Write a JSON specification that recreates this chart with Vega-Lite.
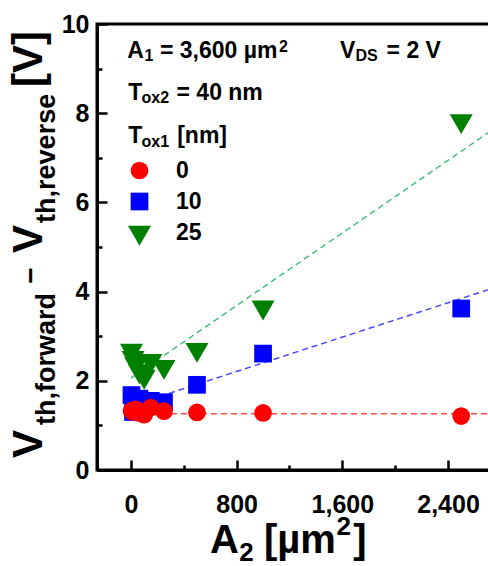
{
  "$schema": "https://vega.github.io/schema/vega-lite/v6.json",
  "width": 395,
  "height": 446,
  "autosize": {"type": "none"},
  "padding": {"left": 97, "top": 24, "right": 0, "bottom": 96},
  "background": "white",
  "config": {
    "font": "Liberation Sans",
    "view": {"stroke": "black", "strokeWidth": 3},
    "text": {"font": "Liberation Sans", "fontWeight": "bold", "color": "black", "baseline": "alphabetic", "align": "left"},
    "line": {"strokeDash": [6, 4], "strokeWidth": 1.5}
  },
  "datasets": {
    "points": [
      {"tox1": "25", "a2": 4, "v": 2.68},
      {"tox1": "25", "a2": 16, "v": 2.52},
      {"tox1": "25", "a2": 36, "v": 2.38},
      {"tox1": "25", "a2": 64, "v": 2.22},
      {"tox1": "25", "a2": 100, "v": 2.10},
      {"tox1": "25", "a2": 150, "v": 2.45},
      {"tox1": "25", "a2": 250, "v": 2.32},
      {"tox1": "25", "a2": 500, "v": 2.70},
      {"tox1": "25", "a2": 1000, "v": 3.65},
      {"tox1": "25", "a2": 2500, "v": 7.83},
      {"tox1": "10", "a2": 4, "v": 1.68},
      {"tox1": "10", "a2": 16, "v": 1.30},
      {"tox1": "10", "a2": 36, "v": 1.45},
      {"tox1": "10", "a2": 64, "v": 1.60},
      {"tox1": "10", "a2": 100, "v": 1.50},
      {"tox1": "10", "a2": 150, "v": 1.55},
      {"tox1": "10", "a2": 250, "v": 1.52},
      {"tox1": "10", "a2": 500, "v": 1.91},
      {"tox1": "10", "a2": 1000, "v": 2.61},
      {"tox1": "10", "a2": 2500, "v": 3.62},
      {"tox1": "0", "a2": 4, "v": 1.33},
      {"tox1": "0", "a2": 16, "v": 1.30},
      {"tox1": "0", "a2": 36, "v": 1.36},
      {"tox1": "0", "a2": 64, "v": 1.28},
      {"tox1": "0", "a2": 100, "v": 1.24},
      {"tox1": "0", "a2": 150, "v": 1.40},
      {"tox1": "0", "a2": 250, "v": 1.32},
      {"tox1": "0", "a2": 500, "v": 1.29},
      {"tox1": "0", "a2": 1000, "v": 1.28},
      {"tox1": "0", "a2": 2500, "v": 1.21}
    ],
    "fits": [
      {"tox1": "0", "a2": 0, "v": 1.26},
      {"tox1": "0", "a2": 2733, "v": 1.26},
      {"tox1": "10", "a2": 0, "v": 1.44},
      {"tox1": "10", "a2": 2733, "v": 4.07},
      {"tox1": "25", "a2": 0, "v": 2.06},
      {"tox1": "25", "a2": 2733, "v": 7.62}
    ]
  },
  "layer": [
    {
      "data": {"name": "fits"},
      "transform": [{"filter": "datum.tox1 === '0'"}],
      "mark": {"type": "line", "color": "#ff4a4a"},
      "encoding": {
        "x": {"field": "a2", "type": "quantitative", "title": null},
        "y": {"field": "v", "type": "quantitative", "title": null}
      }
    },
    {
      "data": {"name": "fits"},
      "transform": [{"filter": "datum.tox1 === '10'"}],
      "mark": {"type": "line", "color": "#4a4aff"},
      "encoding": {
        "x": {"field": "a2", "type": "quantitative", "title": null},
        "y": {"field": "v", "type": "quantitative", "title": null}
      }
    },
    {
      "data": {"name": "fits"},
      "transform": [{"filter": "datum.tox1 === '25'"}],
      "mark": {"type": "line", "color": "#44c07a"},
      "encoding": {
        "x": {"field": "a2", "type": "quantitative", "title": null},
        "y": {"field": "v", "type": "quantitative", "title": null}
      }
    },
    {
      "data": {"name": "points"},
      "mark": {"type": "point", "filled": true, "opacity": 1, "strokeWidth": 0, "size": 314},
      "encoding": {
        "x": {"field": "a2", "type": "quantitative", "title": null,
          "scale": {"domain": [-257, 2733], "nice": false, "zero": false},
          "axis": {
            "values": [0, 400, 800, 1200, 1600, 2000, 2400],
            "labelExpr": "datum.value % 800 === 0 ? format(datum.value, ',') : ''",
            "grid": false, "title": null,
            "domainColor": "black", "domainWidth": 3,
            "tickColor": "black", "tickWidth": 2.5,
            "tickSize": {"condition": {"test": "datum.value % 800 === 0", "value": -10}, "value": -5},
            "labelFont": "Liberation Sans", "labelFontWeight": "bold", "labelFontSize": 25,
            "labelColor": "black", "labelPadding": 32, "labelFlush": false, "labelOverlap": false
          }},
        "y": {"field": "v", "type": "quantitative", "title": null,
          "scale": {"domain": [0, 10], "nice": false},
          "axis": {
            "values": [0, 1, 2, 3, 4, 5, 6, 7, 8, 9, 10],
            "labelExpr": "datum.value % 2 === 0 ? datum.label : ''",
            "grid": false, "title": null,
            "domainColor": "black", "domainWidth": 3,
            "tickColor": "black", "tickWidth": 2.5,
            "tickSize": {"condition": {"test": "datum.value % 2 === 0", "value": -10}, "value": -5},
            "labelFont": "Liberation Sans", "labelFontWeight": "bold", "labelFontSize": 25,
            "labelColor": "black", "labelPadding": 18, "labelFlush": false, "labelOverlap": false
          }},
        "color": {"field": "tox1", "type": "nominal",
          "scale": {"domain": ["0", "10", "25"], "range": ["#ff0000", "#0000ff", "#008000"]},
          "legend": {"orient": "none", "legendX": 31, "legendY": 135, "title": null,
            "labelFont": "Liberation Sans", "labelFontSize": 23, "labelFontWeight": "bold", "labelColor": "black",
            "labelOffset": 25, "rowPadding": 7, "symbolSize": 314, "symbolStrokeWidth": 0, "symbolOpacity": 1}},
        "shape": {"field": "tox1", "type": "nominal",
          "scale": {"domain": ["0", "10", "25"], "range": ["circle", "square", "M-1.3,-0.75L1.3,-0.75L0,1.5Z"]}}
      }
    },
    {"data": {"values": [{}]}, "mark": {"type": "text", "text": "V", "fontSize": 42, "angle": 270}, "encoding": {"x": {"datum": -673.7}, "y": {"datum": 0.27}}},
    {"data": {"values": [{}]}, "mark": {"type": "text", "text": "th,forward", "fontSize": 27, "angle": 270}, "encoding": {"x": {"datum": -575.3}, "y": {"datum": 1.01}}},
    {"data": {"values": [{}]}, "mark": {"type": "text", "text": "−", "fontSize": 28, "angle": 270, "align": "center"}, "encoding": {"x": {"datum": -690}, "y": {"datum": 4.36}}},
    {"data": {"values": [{}]}, "mark": {"type": "text", "text": "V", "fontSize": 42, "angle": 270}, "encoding": {"x": {"datum": -673.7}, "y": {"datum": 4.865}}},
    {"data": {"values": [{}]}, "mark": {"type": "text", "text": "th,reverse", "fontSize": 27, "angle": 270}, "encoding": {"x": {"datum": -575.3}, "y": {"datum": 5.54}}},
    {"data": {"values": [{}]}, "mark": {"type": "text", "text": "[V]", "fontSize": 42, "angle": 270}, "encoding": {"x": {"datum": -673.7}, "y": {"datum": 8.59}}},
    {"data": {"values": [{}]}, "mark": {"type": "text", "text": "A", "fontSize": 40}, "encoding": {"x": {"datum": 598}, "y": {"datum": -1.861}}},
    {"data": {"values": [{}]}, "mark": {"type": "text", "text": "2", "fontSize": 26}, "encoding": {"x": {"datum": 819}, "y": {"datum": -2.04}}},
    {"data": {"values": [{}]}, "mark": {"type": "text", "text": "[µm", "fontSize": 40}, "encoding": {"x": {"datum": 1007}, "y": {"datum": -1.861}}},
    {"data": {"values": [{}]}, "mark": {"type": "text", "text": "2", "fontSize": 26}, "encoding": {"x": {"datum": 1555}, "y": {"datum": -1.46}}},
    {"data": {"values": [{}]}, "mark": {"type": "text", "text": "]", "fontSize": 40}, "encoding": {"x": {"datum": 1683}, "y": {"datum": -1.861}}},
    {"data": {"values": [{}]}, "mark": {"type": "text", "text": "A", "fontSize": 23}, "encoding": {"x": {"datum": -28}, "y": {"datum": 9.238}}},
    {"data": {"values": [{}]}, "mark": {"type": "text", "text": "1", "fontSize": 16}, "encoding": {"x": {"datum": 103}, "y": {"datum": 9.16}}},
    {"data": {"values": [{}]}, "mark": {"type": "text", "text": "= 3,600 µm", "fontSize": 23}, "encoding": {"x": {"datum": 219.5}, "y": {"datum": 9.238}}},
    {"data": {"values": [{}]}, "mark": {"type": "text", "text": "2", "fontSize": 16}, "encoding": {"x": {"datum": 1120}, "y": {"datum": 9.38}}},
    {"data": {"values": [{}]}, "mark": {"type": "text", "text": "V", "fontSize": 23}, "encoding": {"x": {"datum": 1582}, "y": {"datum": 9.238}}},
    {"data": {"values": [{}]}, "mark": {"type": "text", "text": "DS", "fontSize": 16}, "encoding": {"x": {"datum": 1700}, "y": {"datum": 9.16}}},
    {"data": {"values": [{}]}, "mark": {"type": "text", "text": "= 2 V", "fontSize": 23}, "encoding": {"x": {"datum": 1935}, "y": {"datum": 9.238}}},
    {"data": {"values": [{}]}, "mark": {"type": "text", "text": "T", "fontSize": 23}, "encoding": {"x": {"datum": -20}, "y": {"datum": 8.296}}},
    {"data": {"values": [{}]}, "mark": {"type": "text", "text": "ox2", "fontSize": 16}, "encoding": {"x": {"datum": 80}, "y": {"datum": 8.22}}},
    {"data": {"values": [{}]}, "mark": {"type": "text", "text": "= 40 nm", "fontSize": 23}, "encoding": {"x": {"datum": 345}, "y": {"datum": 8.296}}},
    {"data": {"values": [{}]}, "mark": {"type": "text", "text": "T", "fontSize": 23}, "encoding": {"x": {"datum": -20}, "y": {"datum": 7.325}}},
    {"data": {"values": [{}]}, "mark": {"type": "text", "text": "ox1", "fontSize": 16}, "encoding": {"x": {"datum": 80}, "y": {"datum": 7.242}}},
    {"data": {"values": [{}]}, "mark": {"type": "text", "text": "[nm]", "fontSize": 23}, "encoding": {"x": {"datum": 350}, "y": {"datum": 7.325}}}
  ]
}
